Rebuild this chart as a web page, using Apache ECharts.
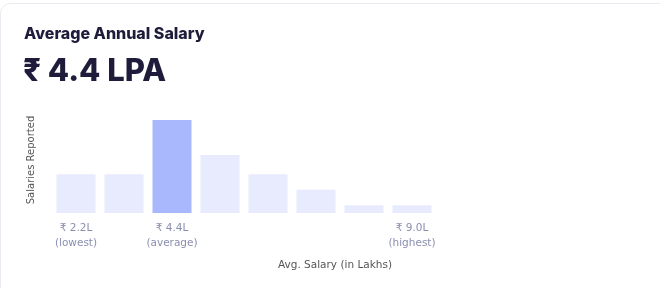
<!DOCTYPE html>
<html>
<head>
<meta charset="utf-8">
<script src="https://cdn.jsdelivr.net/npm/echarts@6/dist/echarts.min.js"></script>
<style>html,body{margin:0;padding:0;background:#fff}#c{width:660px;height:288px}</style>
</head>
<body>
<div id="c"></div>
<script>
const categories = ['2.2', '3.0', '4.4', '5.2', '6.0', '6.8', '8.2', '9.0'];
const salariesReported = [10, 10, 24, 15, 10, 6, 2, 2];
const highlightIndex = 2;
const tickLabels = ['₹ 2.2L\n(lowest)', '', '₹ 4.4L\n(average)', '', '', '', '', '₹ 9.0L\n(highest)'];
const headline = 'Average Annual Salary';
const headlineValue = '₹ 4.4 LPA';
const xAxisName = 'Avg. Salary (in Lakhs)';
const yAxisName = 'Salaries Reported';

const chart = echarts.init(document.getElementById('c'));
chart.setOption({
  animation: false,
  title: [
    { text: headline, left: 24, top: 24, padding: 0,
      textStyle: { fontFamily: 'Inter', fontWeight: 800, fontSize: 16, lineHeight: 20, color: '#1e1c3a' } },
    { text: headlineValue, left: 23, top: 54, padding: 0,
      textStyle: { fontFamily: 'Inter', fontWeight: 800, fontSize: 31, lineHeight: 36, color: '#1e1c3a' } }
  ],
  graphic: [
    { type: 'rect', shape: { x: 0.5, y: 3.5, width: 720, height: 320, r: 10 }, style: { fill: 'none', stroke: '#e9ebf1', lineWidth: 1 }, silent: true, z: -10 },
    { type: 'text', x: 31, y: 160, rotation: Math.PI / 2, style: { text: yAxisName, fontFamily: 'DejaVu Sans', fontSize: 10, fill: '#555', align: 'center', verticalAlign: 'middle' } },
    { type: 'text', x: 335, y: 265, style: { text: xAxisName, fontFamily: 'DejaVu Sans', fontSize: 10.5, fill: '#555', align: 'center', verticalAlign: 'middle' } }
  ],
  grid: { left: 52, right: 224, top: 120, bottom: 75 },
  xAxis: {
    type: 'category', data: categories,
    axisLine: { show: false }, axisTick: { show: false },
    axisLabel: {
      interval: 0, margin: 8,
      formatter: (v, i) => tickLabels[i],
      fontFamily: 'DejaVu Sans', fontSize: 10.5, lineHeight: 15, color: '#8a8fb0'
    }
  },
  yAxis: { type: 'value', min: 0, max: 24, show: false, splitLine: { show: false } },
  series: [{
    type: 'bar', barWidth: 39,
    data: salariesReported.map((v, i) => ({ value: v, itemStyle: { color: i === highlightIndex ? '#a9b8fd' : '#e8ebfd' } }))
  }]
});
</script>
</body>
</html>
